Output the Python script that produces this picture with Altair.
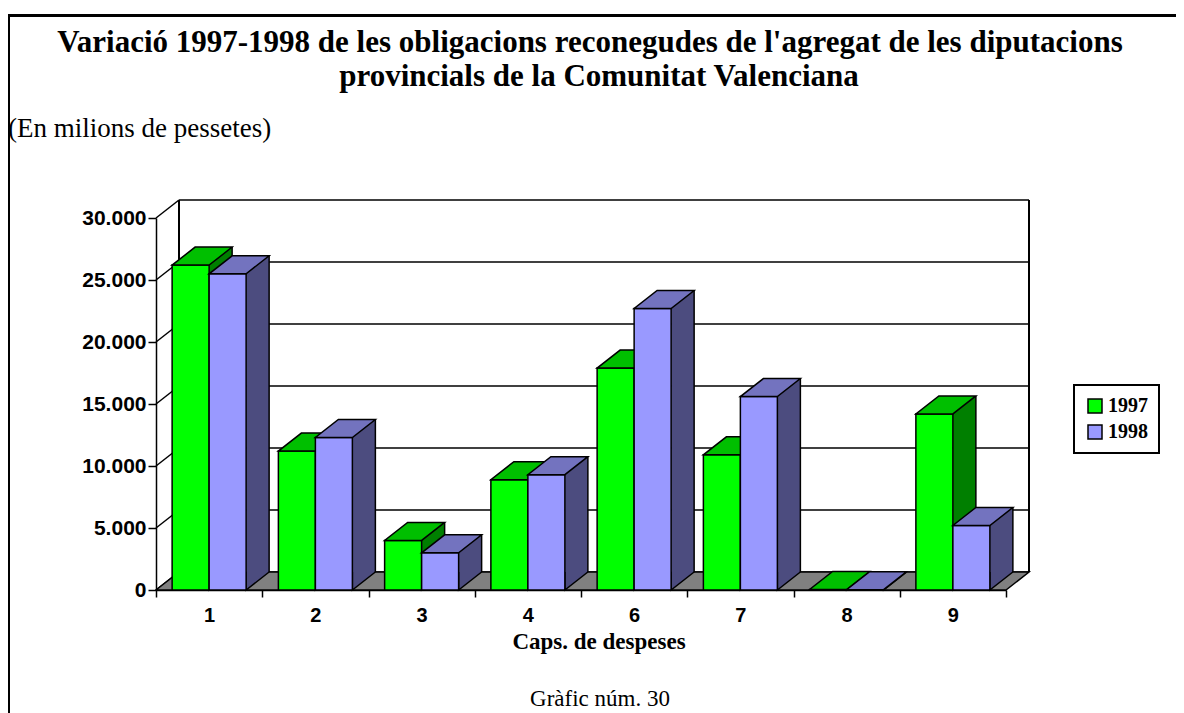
import altair as alt
import pandas as pd

# ---------------- data ----------------
categories = ["1", "2", "3", "4", "6", "7", "8", "9"]
values_1997 = [26200, 11200, 4000, 8900, 17900, 10900, 40, 14200]
values_1998 = [25500, 12300, 3000, 9300, 22700, 15600, 30, 5200]
series = ["1997", "1998"]
y_ticks = [0, 5000, 10000, 15000, 20000, 25000, 30000]

title_lines = [
    "Variació 1997-1998 de les obligacions reconegudes de l'agregat de les diputacions",
    "provincials de la Comunitat Valenciana",
]
subtitle = "(En milions de pessetes)"
x_title = "Caps. de despeses"
footer = "Gràfic núm. 30"

# ---------------- styles ----------------
W, H = 850, 372
BAR_W = 37
DX, DY = 23, 18
SW = 1.5
colors = {
    "1997": {"front": "#00FF00", "top": "#00BF00", "side": "#007F00"},
    "1998": {"front": "#9999FF", "top": "#7373BF", "side": "#4C4C7F"},
}
SERIF = "Liberation Serif"
SANS = "Liberation Sans"

df = pd.DataFrame({
    "cap": categories * 2,
    "serie": ["1997"] * len(categories) + ["1998"] * len(categories),
    "valor": values_1997 + values_1998,
})
ticks_df = pd.DataFrame({"v": y_ticks})

x_scale = alt.Scale(domain=categories, paddingInner=0, paddingOuter=0)
y_scale = alt.Scale(domain=[0, 30000], nice=False, zero=True)

x_axis = alt.Axis(
    title=None, labelAngle=0, tickBand="extent", tickSize=7, tickColor="black",
    tickWidth=SW, domainColor="black", domainWidth=SW, labelFont=SANS,
    labelFontWeight="bold", labelFontSize=20, labelColor="black", labelPadding=8,
    grid=False,
)
y_axis = alt.Axis(
    title=None, values=y_ticks,
    labelExpr="replace(format(datum.value, ','), ',', '.')",
    tickSize=8, tickColor="black", tickWidth=SW, domainColor="black",
    domainWidth=SW, labelFont=SANS, labelFontWeight="bold", labelFontSize=21,
    labelColor="black", labelPadding=2, grid=False,
)


def X(center=False):
    if center:
        return alt.X("cap:N", sort=categories, scale=x_scale, axis=x_axis, bandPosition=0.5)
    return alt.X("cap:N", sort=categories, scale=x_scale, axis=x_axis)


def Y(field="valor:Q"):
    return alt.Y(field, scale=y_scale, axis=y_axis)


base_ticks = alt.Chart(ticks_df)

# back wall grid lines
back_grid = base_ticks.mark_rule(color="black", strokeWidth=SW, yOffset=-DY).encode(
    y=alt.Y("v:Q", scale=y_scale, axis=y_axis),
    x=alt.value(DX), x2=alt.value(W + DX),
)
side_grid = base_ticks.mark_rule(color="black", strokeWidth=SW, y2Offset=-DY).encode(
    y=alt.Y("v:Q", scale=y_scale, axis=y_axis), y2="v:Q",
    x=alt.value(0), x2=alt.value(DX),
)
wall_left = base_ticks.mark_rule(color="black", strokeWidth=SW, yOffset=-DY, y2Offset=-DY).encode(
    y=alt.datum(30000, scale=y_scale), y2=alt.datum(0), x=alt.value(DX),
)
wall_right = base_ticks.mark_rule(color="black", strokeWidth=SW, yOffset=-DY, y2Offset=-DY).encode(
    y=alt.datum(30000, scale=y_scale), y2=alt.datum(0), x=alt.value(W + DX),
)
floor_path = f"M0,0 L{W},0 L{W + DX},{-DY} L{DX},{-DY} Z"
floor = base_ticks.transform_filter("datum.v == 0").mark_point(
    shape=floor_path, size=4, filled=True, fill="#808080", stroke="black",
    strokeWidth=SW, opacity=1,
).encode(x=alt.value(0), y=alt.Y("v:Q", scale=y_scale, axis=y_axis))

layers = [back_grid, side_grid, wall_left, wall_right, floor]

half = BAR_W / 2
top_path = f"M{-half},0 L{half},0 L{half + DX},{-DY} L{-half + DX},{-DY} Z"
tri_path = f"M0,{-DY} L0,0 L{DX},{-DY}"

for i, s in enumerate(series):
    c = -half if i == 0 else half
    col = colors[s]
    d = alt.Chart(df).transform_filter(alt.datum.serie == s)
    side = d.mark_bar(
        width=DX, xOffset=c + half + DX / 2, yOffset=-DY, y2Offset=-DY,
        fill=col["side"], strokeWidth=0,
    ).encode(x=X(), y=Y())
    tri = d.mark_point(
        shape=tri_path, size=4, filled=True, fill=col["side"], stroke="black",
        strokeWidth=SW, opacity=1, xOffset=c + half,
    ).encode(x=X(True), y=alt.datum(0, scale=y_scale))
    edge = d.mark_rule(
        color="black", strokeWidth=SW, xOffset=c + half + DX, yOffset=-DY, y2Offset=-DY,
    ).encode(x=X(True), y=Y(), y2=alt.datum(0))
    front = d.mark_bar(
        width=BAR_W, xOffset=c, stroke="black", strokeWidth=SW, opacity=1,
    ).encode(
        x=X(), y=Y(),
        color=alt.Color(
            "serie:N",
            scale=alt.Scale(domain=series, range=[colors[k]["front"] for k in series]),
            legend=alt.Legend(
                orient="none", legendX=918, legendY=167, title=None,
                symbolType="square", symbolSize=196, symbolStrokeColor="black",
                symbolStrokeWidth=SW, symbolOpacity=1, labelFont=SERIF,
                labelFontWeight="bold", labelFontSize=20, labelColor="black",
                padding=11, strokeColor="black", rowPadding=6, labelOffset=3,
            ),
        ),
    )
    top = d.mark_point(
        shape=top_path, size=4, filled=True, fill=col["top"], stroke="black",
        strokeWidth=SW, opacity=1, xOffset=c,
    ).encode(x=X(True), y=Y())
    layers += [side, tri, edge, front, top]


def text_layer(txt, x, y, size, weight="normal", align="center", font=SERIF):
    return alt.Chart(pd.DataFrame({"t": [txt]})).mark_text(
        font=font, fontSize=size, fontWeight=weight, align=align,
        baseline="middle", color="black",
    ).encode(text="t:N", x=alt.value(x), y=alt.value(y))


layers += [
    text_layer(title_lines[0], 434, -175, 31, "bold"),
    text_layer(title_lines[1], 443, -141, 31, "bold"),
    text_layer(subtitle, -148, -89, 27, align="left"),
    text_layer(x_title, 443, 424, 23, "bold"),
    text_layer(footer, 444, 481, 23),
]

# outer frame (top and left)
frame_top = alt.Chart(pd.DataFrame({"a": [0]})).mark_rule(color="black", strokeWidth=3).encode(
    x=alt.value(-149), x2=alt.value(1030), y=alt.value(-202.5),
)
frame_left = alt.Chart(pd.DataFrame({"a": [0]})).mark_rule(color="black", strokeWidth=3).encode(
    x=alt.value(-147.5), y=alt.value(-204), y2=alt.value(500),
)
layers += [frame_top, frame_left]

chart = alt.layer(*layers).properties(
    width=W, height=H,
    padding={"left": 148, "top": 210, "right": 170, "bottom": 123},
    autosize=alt.AutoSizeParams(type="none"),
).configure_view(strokeWidth=0).configure_legend(strokeWidth=2)

chart.save("out.html", embed_options={"renderer": "svg", "actions": False})
